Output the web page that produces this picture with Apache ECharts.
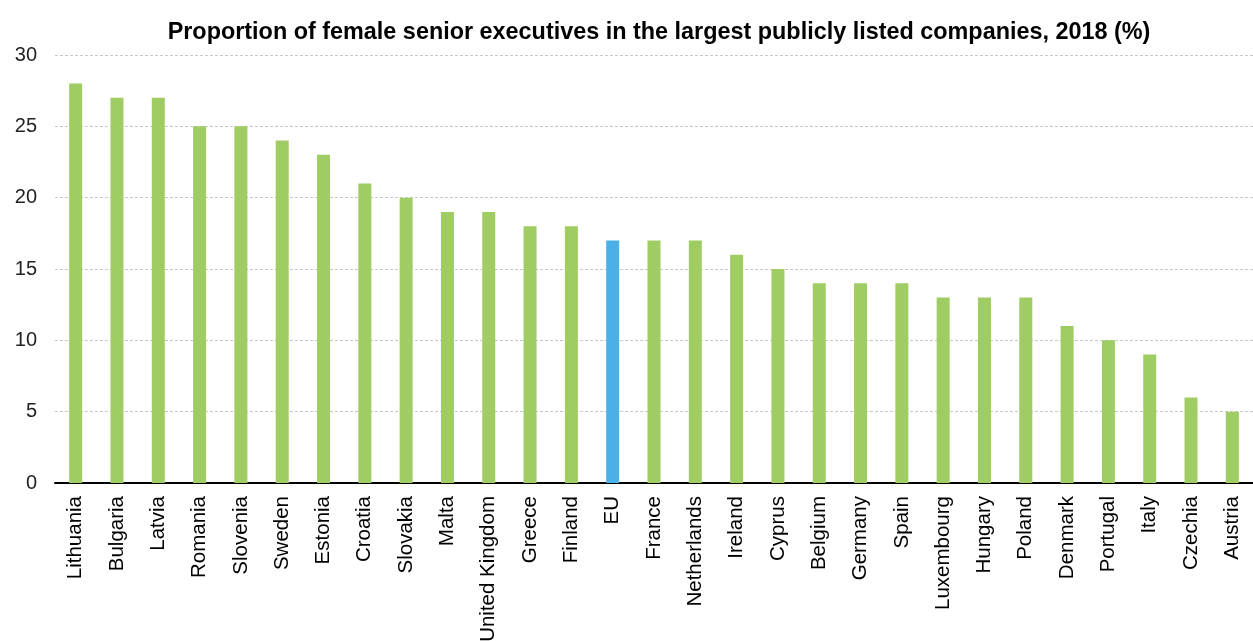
<!DOCTYPE html>
<html><head><meta charset="utf-8">
<script src="https://cdn.jsdelivr.net/npm/echarts@6/dist/echarts.min.js"></script>
<style>html,body{margin:0;padding:0;background:#fff}#c{width:1253px;height:641px}</style>
</head><body><div id="c"></div>
<script>
const countries = ["Lithuania","Bulgaria","Latvia","Romania","Slovenia","Sweden","Estonia","Croatia","Slovakia","Malta","United Kingdom","Greece","Finland","EU","France","Netherlands","Ireland","Cyprus","Belgium","Germany","Spain","Luxembourg","Hungary","Poland","Denmark","Portugal","Italy","Czechia","Austria"];
const values = [28,27,27,25,25,24,23,21,20,19,19,18,18,17,17,17,16,15,14,14,14,13,13,13,11,10,9,6,5];
const highlight = "EU";
const yTicks = {min:0, max:30, interval:5};

const chart = echarts.init(document.getElementById('c'));
chart.setOption({
  animation:false,
  title:{text:"Proportion of female senior executives in the largest publicly listed companies, 2018 (%)",
    left:654, top:16, textAlign:'center',
    textStyle:{fontFamily:'Liberation Sans, Arial, sans-serif', fontSize:23.4, fontWeight:'bold', color:'#000'}},
  grid:{left:55, right:0, top:55, bottom:158, containLabel:false, outerBoundsMode:'none'},
  xAxis:{type:'category', data:countries,
    axisLine:{lineStyle:{color:'#000', width:2}},
    axisTick:{show:false},
    axisLabel:{rotate:90, interval:0, margin:13, fontSize:20.5, color:'#000', fontFamily:'Liberation Sans, Arial, sans-serif'}},
  yAxis:{type:'value', min:yTicks.min, max:yTicks.max, interval:yTicks.interval,
    axisLine:{show:false}, axisTick:{show:false},
    axisLabel:{fontSize:20, color:'#222', margin:18, fontFamily:'Liberation Sans, Arial, sans-serif'},
    splitLine:{lineStyle:{color:'#c8c8c8', type:[3,2], width:1}}},
  series:[{type:'bar', barWidth:13,
    data:values.map((v,i)=>({value:v, itemStyle:{color: countries[i]===highlight ? '#4bb0e8' : '#a0cd63'}}))}]
});
</script></body></html>
